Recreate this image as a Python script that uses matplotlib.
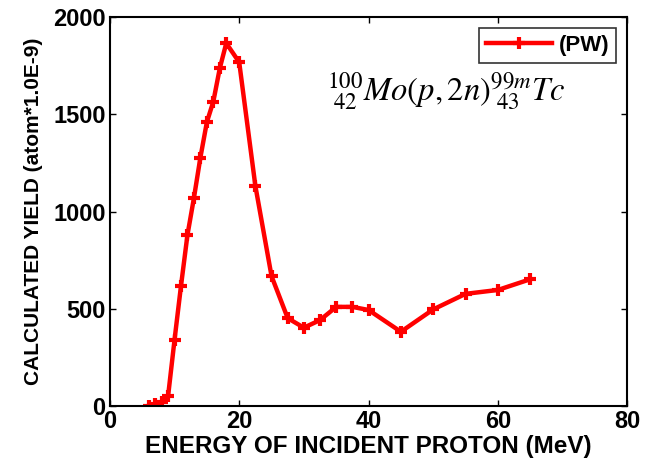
import matplotlib as mpl
import matplotlib.pyplot as plt

mpl.rcParams.update({'font.family': 'Liberation Sans', 'mathtext.fontset': 'stix'})

# data
energy = [6, 7, 8, 9, 10, 11, 12, 13, 14, 15, 16, 17, 18, 20, 22.5, 25,
          27.5, 30, 32.5, 35, 37.5, 40, 45, 50, 55, 60, 65]
yield_pw = [2, 12, 20, 50, 340, 618, 880, 1070, 1278, 1460, 1566, 1737, 1866,
            1768, 1132, 668, 452, 403, 442, 510, 510, 494, 382, 497, 577, 597, 652]

fig = plt.figure(figsize=(6.5, 4.63), dpi=100)
ax = fig.add_axes([0.169, 0.123, 0.796, 0.840])

ax.plot(energy, yield_pw, '-+', color='red', lw=3.2, ms=9, mew=3, label='(PW)')

ax.set_xlim(0, 80)
ax.set_ylim(0, 2000)
ax.set_xticks([0, 20, 40, 60, 80])
ax.set_yticks([0, 500, 1000, 1500, 2000])
ax.tick_params(direction='in', top=True, right=True, labelsize=17, length=4,
               width=1, pad=3)
for lab in ax.get_xticklabels() + ax.get_yticklabels():
    lab.set_fontweight('bold')
for s in ax.spines.values():
    s.set_linewidth(1.5)

ax.set_xlabel('ENERGY OF INCIDENT PROTON (MeV)', fontsize=17.5, fontweight='bold', labelpad=1)
ax.set_ylabel('CALCULATED YIELD (atom*1.0E-9)', fontsize=15, fontweight='bold', labelpad=7)

ax.text(0.42, 0.785, r'${}^{100}_{\ 42}Mo(p,2n)^{99m}_{\ 43}Tc$', transform=ax.transAxes,
        fontsize=23.5)

leg = ax.legend(loc='upper right', prop={'size': 16, 'weight': 'bold'}, frameon=True,
                fancybox=False, borderaxespad=0.5, handlelength=3.0, borderpad=0.3,
                handletextpad=0.3)
leg.get_frame().set_edgecolor('black')
leg.get_frame().set_linewidth(1.2)

plt.savefig('out.png', dpi=100)
